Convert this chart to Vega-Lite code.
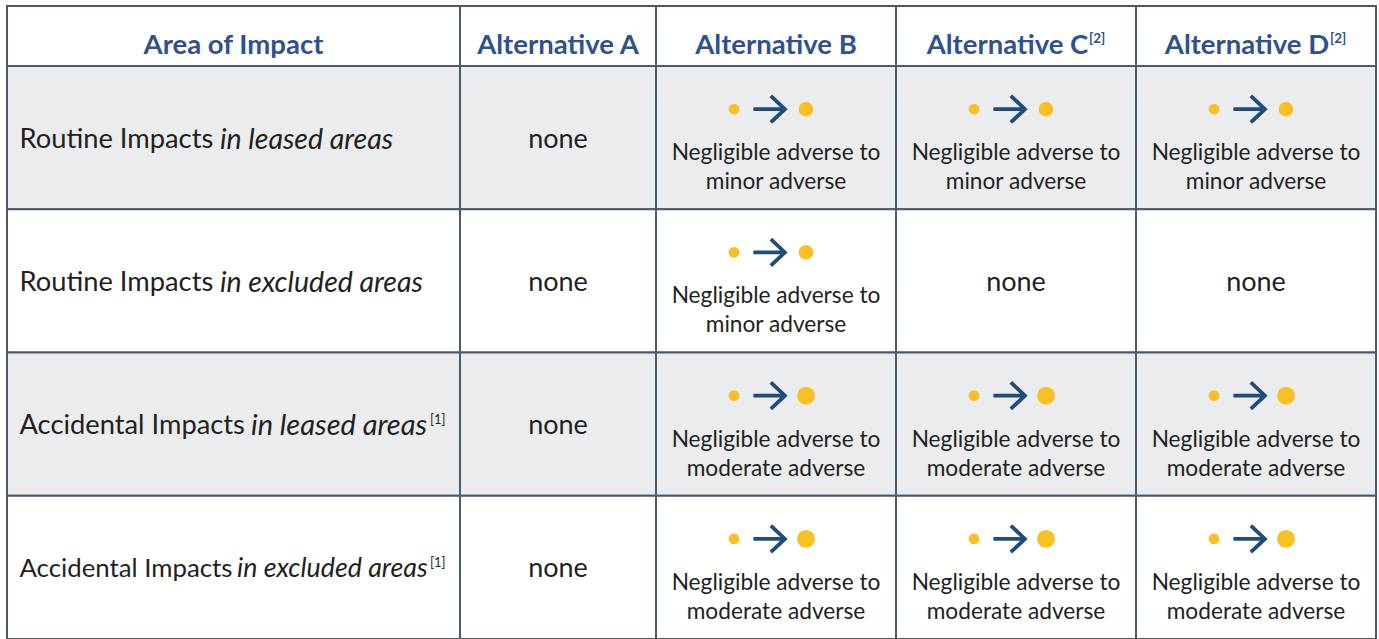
{
  "$schema": "https://vega.github.io/schema/vega-lite/v6.json",
  "background": "white",
  "padding": {"left": 6, "top": 5, "right": 0, "bottom": 0},
  "spacing": 0,
  "columns": 5,
  "bounds": "flush",
  "config": {
    "view": {"stroke": null},
    "font": "Lato",
    "text": {"font": "Lato", "color": "#231f20"}
  },
  "datasets": {
    "headers": [
      {"col": "area", "label": "Area of Impact", "note": ""},
      {"col": "A", "label": "Alternative A", "note": ""},
      {"col": "B", "label": "Alternative B", "note": ""},
      {"col": "C", "label": "Alternative C", "note": "[2]"},
      {"col": "D", "label": "Alternative D", "note": "[2]"}
    ],
    "areas": [
      {"row": 1, "lead": "Routine Impacts", "ital": "in leased areas", "note": ""},
      {"row": 2, "lead": "Routine Impacts", "ital": "in excluded areas", "note": ""},
      {"row": 3, "lead": "Accidental Impacts", "ital": "in leased areas", "note": "[1]"},
      {"row": 4, "lead": "Accidental Impacts", "ital": "in excluded areas", "note": "[1]"}
    ],
    "cells": [
      {"col": "A", "row": 1, "text": "none"},
      {"col": "A", "row": 2, "text": "none"},
      {"col": "A", "row": 3, "text": "none"},
      {"col": "A", "row": 4, "text": "none"},
      {"col": "B", "row": 1, "text": "Negligible adverse to\nminor adverse", "low": "negligible", "high": "minor"},
      {"col": "B", "row": 2, "text": "Negligible adverse to\nminor adverse", "low": "negligible", "high": "minor"},
      {"col": "B", "row": 3, "text": "Negligible adverse to\nmoderate adverse", "low": "negligible", "high": "moderate"},
      {"col": "B", "row": 4, "text": "Negligible adverse to\nmoderate adverse", "low": "negligible", "high": "moderate"},
      {"col": "C", "row": 1, "text": "Negligible adverse to\nminor adverse", "low": "negligible", "high": "minor"},
      {"col": "C", "row": 2, "text": "none"},
      {"col": "C", "row": 3, "text": "Negligible adverse to\nmoderate adverse", "low": "negligible", "high": "moderate"},
      {"col": "C", "row": 4, "text": "Negligible adverse to\nmoderate adverse", "low": "negligible", "high": "moderate"},
      {"col": "D", "row": 1, "text": "Negligible adverse to\nminor adverse", "low": "negligible", "high": "minor"},
      {"col": "D", "row": 2, "text": "none"},
      {"col": "D", "row": 3, "text": "Negligible adverse to\nmoderate adverse", "low": "negligible", "high": "moderate"},
      {"col": "D", "row": 4, "text": "Negligible adverse to\nmoderate adverse", "low": "negligible", "high": "moderate"}
    ]
  },
  "concat": [
    {
      "width": 453, "height": 60,
      "data": {"name": "headers"},
      "transform": [{"filter": "datum.col == 'area'"}],
      "layer": [
        {"mark": {"type": "rect", "fill": "white", "stroke": "#4b5a69", "strokeWidth": 2}, "encoding": {}},
        {"mark": {"type": "text", "fontSize": 27.5, "fontWeight": "bold", "color": "#2f5091", "dy": 10}, "encoding": {"text": {"field": "label"}}}
      ]
    },
    {
      "width": 196, "height": 60,
      "data": {"name": "headers"},
      "transform": [{"filter": "datum.col == 'A'"}],
      "layer": [
        {"mark": {"type": "rect", "fill": "white", "stroke": "#4b5a69", "strokeWidth": 2}, "encoding": {}},
        {"mark": {"type": "text", "fontSize": 27.5, "fontWeight": "bold", "color": "#2f5091", "dy": 10}, "encoding": {"text": {"field": "label"}}}
      ]
    },
    {
      "width": 240, "height": 60,
      "data": {"name": "headers"},
      "transform": [{"filter": "datum.col == 'B'"}],
      "layer": [
        {"mark": {"type": "rect", "fill": "white", "stroke": "#4b5a69", "strokeWidth": 2}, "encoding": {}},
        {"mark": {"type": "text", "fontSize": 27.5, "fontWeight": "bold", "color": "#2f5091", "dy": 10}, "encoding": {"text": {"field": "label"}}}
      ]
    },
    {
      "width": 240, "height": 60,
      "data": {"name": "headers"},
      "transform": [{"filter": "datum.col == 'C'"}],
      "layer": [
        {"mark": {"type": "rect", "fill": "white", "stroke": "#4b5a69", "strokeWidth": 2}, "encoding": {}},
        {"mark": {"type": "text", "fontSize": 27.5, "fontWeight": "bold", "color": "#2f5091", "dy": 10, "dx": -8.5}, "encoding": {"text": {"field": "label"}}},
        {"mark": {"type": "text", "fontSize": 13.5, "fontWeight": "bold", "color": "#2f5091", "dy": 3, "dx": 73, "align": "left"}, "encoding": {"text": {"field": "note"}}}
      ]
    },
    {
      "width": 240, "height": 60,
      "data": {"name": "headers"},
      "transform": [{"filter": "datum.col == 'D'"}],
      "layer": [
        {"mark": {"type": "rect", "fill": "white", "stroke": "#4b5a69", "strokeWidth": 2}, "encoding": {}},
        {"mark": {"type": "text", "fontSize": 27.5, "fontWeight": "bold", "color": "#2f5091", "dy": 10, "dx": -9}, "encoding": {"text": {"field": "label"}}},
        {"mark": {"type": "text", "fontSize": 13.5, "fontWeight": "bold", "color": "#2f5091", "dy": 3, "dx": 74, "align": "left"}, "encoding": {"text": {"field": "note"}}}
      ]
    },
    {
      "width": 453, "height": 573,
      "data": {"name": "areas"},
      "encoding": {"y": {"field": "row", "type": "ordinal", "scale": {"paddingInner": 0, "paddingOuter": 0}, "axis": null}},
      "layer": [
        {"mark": {"type": "rect", "stroke": "#4b5a69", "strokeWidth": 2}, "encoding": {"fill": {"condition": {"test": "datum.row % 2 == 1", "value": "#ebeced"}, "value": "white"}}},
        {"transform": [{"filter": "datum.row != 4"}], "mark": {"type": "text", "align": "left", "fontSize": 27.3, "dx": -214, "dy": 2}, "encoding": {"text": {"field": "lead"}}},
        {"transform": [{"filter": "datum.row == 4"}], "mark": {"type": "text", "align": "left", "fontSize": 25.8, "dx": -214, "dy": 2}, "encoding": {"text": {"field": "lead"}}},
        {"transform": [{"filter": "datum.lead == 'Routine Impacts'"}], "mark": {"type": "text", "align": "left", "fontStyle": "italic", "fontSize": 28.5, "dx": -13.5, "dy": 2}, "encoding": {"text": {"field": "ital"}}},
        {"transform": [{"filter": "datum.row == 3"}], "mark": {"type": "text", "align": "left", "fontStyle": "italic", "fontSize": 29, "dx": 17.5, "dy": 2}, "encoding": {"text": {"field": "ital"}}},
        {"transform": [{"filter": "datum.row == 4"}], "mark": {"type": "text", "align": "left", "fontStyle": "italic", "fontSize": 26.8, "dx": 3.5, "dy": 2}, "encoding": {"text": {"field": "ital"}}},
        {"transform": [{"filter": "datum.note != ''"}], "mark": {"type": "text", "align": "left", "fontSize": 13, "dx": 196.5, "dy": -4}, "encoding": {"text": {"field": "note"}}}
      ]
    },
    {
      "width": 196, "height": 573,
      "data": {"name": "cells"},
      "transform": [{"filter": "datum.col == 'A'"}],
      "encoding": {"y": {"field": "row", "type": "ordinal", "scale": {"paddingInner": 0, "paddingOuter": 0}, "axis": null}},
      "layer": [
        {"mark": {"type": "rect", "stroke": "#4b5a69", "strokeWidth": 2}, "encoding": {"fill": {"condition": {"test": "datum.row % 2 == 1", "value": "#ebeced"}, "value": "white"}}},
        {"mark": {"type": "text", "fontSize": 27, "dy": 2}, "encoding": {"text": {"field": "text"}}}
      ]
    },
    {
      "width": 240, "height": 573,
      "data": {"name": "cells"},
      "transform": [{"filter": "datum.col == 'B'"}],
      "encoding": {"y": {"field": "row", "type": "ordinal", "scale": {"paddingInner": 0, "paddingOuter": 0}, "axis": null}},
      "layer": [
        {"mark": {"type": "rect", "stroke": "#4b5a69", "strokeWidth": 2}, "encoding": {"fill": {"condition": {"test": "datum.row % 2 == 1", "value": "#ebeced"}, "value": "white"}}},
        {"transform": [{"filter": "datum.text == 'none'"}], "mark": {"type": "text", "fontSize": 27, "dy": 2}, "encoding": {"text": {"field": "text"}}},
        {"transform": [{"filter": "datum.text != 'none'"}], "mark": {"type": "text", "fontSize": 22.7, "lineBreak": "\n", "lineHeight": 29, "dy": 15.5}, "encoding": {"text": {"field": "text"}}},
        {"transform": [{"fold": ["low", "high"], "as": ["end", "level"]}, {"filter": "isValid(datum.level)"}], "mark": {"type": "point", "shape": "circle", "filled": true, "opacity": 1, "color": "#fbbf26", "yOffset": -28.5}, "encoding": {"x": {"field": "end", "type": "nominal", "scale": {"type": "point", "padding": 0, "domain": ["low", "arrow", "high"], "range": [78, 150]}, "axis": null}, "size": {"field": "level", "type": "ordinal", "scale": {"type": "ordinal", "domain": ["negligible", "minor", "moderate"], "range": [115, 215, 320]}, "legend": null}}},
        {"transform": [{"filter": "isValid(datum.high)"}], "mark": {"type": "point", "shape": "M-1,0L0.85,0M0.05,-0.8L0.9,0L0.05,0.8", "filled": false, "stroke": "#1d4e7a", "strokeWidth": 3.8, "size": 1100, "opacity": 1, "yOffset": -28.5}, "encoding": {"x": {"datum": "arrow", "type": "nominal", "scale": {"type": "point", "padding": 0, "domain": ["low", "arrow", "high"], "range": [78, 150]}, "axis": null}}}
      ]
    },
    {
      "width": 240, "height": 573,
      "data": {"name": "cells"},
      "transform": [{"filter": "datum.col == 'C'"}],
      "encoding": {"y": {"field": "row", "type": "ordinal", "scale": {"paddingInner": 0, "paddingOuter": 0}, "axis": null}},
      "layer": [
        {"mark": {"type": "rect", "stroke": "#4b5a69", "strokeWidth": 2}, "encoding": {"fill": {"condition": {"test": "datum.row % 2 == 1", "value": "#ebeced"}, "value": "white"}}},
        {"transform": [{"filter": "datum.text == 'none'"}], "mark": {"type": "text", "fontSize": 27, "dy": 2}, "encoding": {"text": {"field": "text"}}},
        {"transform": [{"filter": "datum.text != 'none'"}], "mark": {"type": "text", "fontSize": 22.7, "lineBreak": "\n", "lineHeight": 29, "dy": 15.5}, "encoding": {"text": {"field": "text"}}},
        {"transform": [{"fold": ["low", "high"], "as": ["end", "level"]}, {"filter": "isValid(datum.level)"}], "mark": {"type": "point", "shape": "circle", "filled": true, "opacity": 1, "color": "#fbbf26", "yOffset": -28.5}, "encoding": {"x": {"field": "end", "type": "nominal", "scale": {"type": "point", "padding": 0, "domain": ["low", "arrow", "high"], "range": [78, 150]}, "axis": null}, "size": {"field": "level", "type": "ordinal", "scale": {"type": "ordinal", "domain": ["negligible", "minor", "moderate"], "range": [115, 215, 320]}, "legend": null}}},
        {"transform": [{"filter": "isValid(datum.high)"}], "mark": {"type": "point", "shape": "M-1,0L0.85,0M0.05,-0.8L0.9,0L0.05,0.8", "filled": false, "stroke": "#1d4e7a", "strokeWidth": 3.8, "size": 1100, "opacity": 1, "yOffset": -28.5}, "encoding": {"x": {"datum": "arrow", "type": "nominal", "scale": {"type": "point", "padding": 0, "domain": ["low", "arrow", "high"], "range": [78, 150]}, "axis": null}}}
      ]
    },
    {
      "width": 240, "height": 573,
      "data": {"name": "cells"},
      "transform": [{"filter": "datum.col == 'D'"}],
      "encoding": {"y": {"field": "row", "type": "ordinal", "scale": {"paddingInner": 0, "paddingOuter": 0}, "axis": null}},
      "layer": [
        {"mark": {"type": "rect", "stroke": "#4b5a69", "strokeWidth": 2}, "encoding": {"fill": {"condition": {"test": "datum.row % 2 == 1", "value": "#ebeced"}, "value": "white"}}},
        {"transform": [{"filter": "datum.text == 'none'"}], "mark": {"type": "text", "fontSize": 27, "dy": 2}, "encoding": {"text": {"field": "text"}}},
        {"transform": [{"filter": "datum.text != 'none'"}], "mark": {"type": "text", "fontSize": 22.7, "lineBreak": "\n", "lineHeight": 29, "dy": 15.5}, "encoding": {"text": {"field": "text"}}},
        {"transform": [{"fold": ["low", "high"], "as": ["end", "level"]}, {"filter": "isValid(datum.level)"}], "mark": {"type": "point", "shape": "circle", "filled": true, "opacity": 1, "color": "#fbbf26", "yOffset": -28.5}, "encoding": {"x": {"field": "end", "type": "nominal", "scale": {"type": "point", "padding": 0, "domain": ["low", "arrow", "high"], "range": [78, 150]}, "axis": null}, "size": {"field": "level", "type": "ordinal", "scale": {"type": "ordinal", "domain": ["negligible", "minor", "moderate"], "range": [115, 215, 320]}, "legend": null}}},
        {"transform": [{"filter": "isValid(datum.high)"}], "mark": {"type": "point", "shape": "M-1,0L0.85,0M0.05,-0.8L0.9,0L0.05,0.8", "filled": false, "stroke": "#1d4e7a", "strokeWidth": 3.8, "size": 1100, "opacity": 1, "yOffset": -28.5}, "encoding": {"x": {"datum": "arrow", "type": "nominal", "scale": {"type": "point", "padding": 0, "domain": ["low", "arrow", "high"], "range": [78, 150]}, "axis": null}}}
      ]
    }
  ]
}
